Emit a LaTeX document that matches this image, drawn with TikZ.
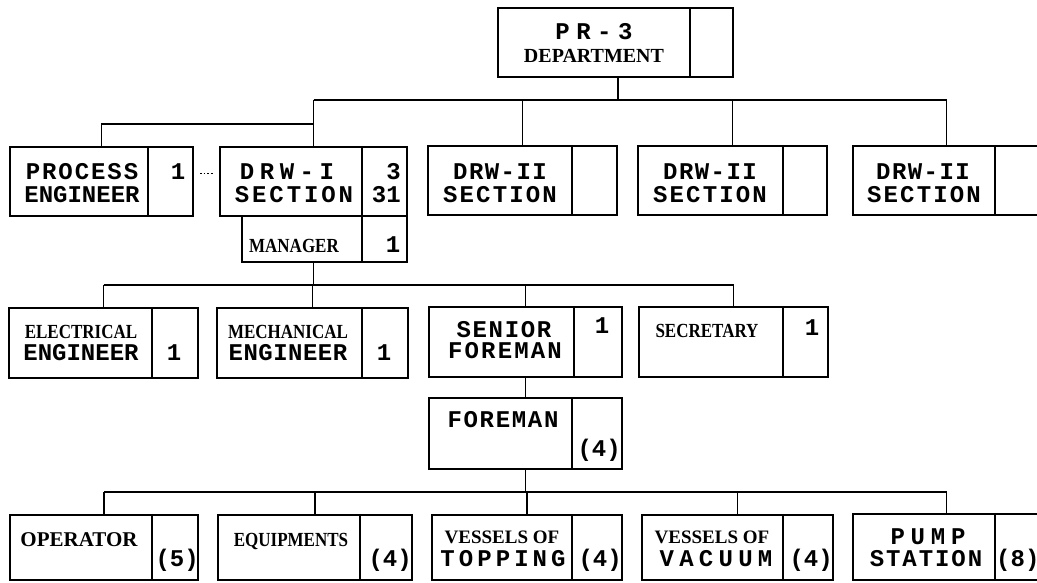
\documentclass[tikz,border=0pt]{standalone}
\usepackage{fontspec}
\usetikzlibrary{fit}
\newfontfamily\monof{Liberation Mono}
\newfontfamily\serf{Liberation Serif}
\newfontfamily\condf[FakeStretch=0.85]{Liberation Serif}
\newcommand\lsp[2]{{\addfontfeatures{LetterSpace=#1}#2}}
\tikzset{
  box/.style={draw, line width=2.2pt, inner sep=0pt},
  divline/.style={line width=2pt},
  conn/.style={line width=1.6pt},
  mtext/.style={font=\monof\bfseries\fontsize{24}{24}\selectfont, inner sep=0pt, anchor=base},
  ctext/.style={font=\condf\bfseries\fontsize{20}{20}\selectfont, inner sep=0pt, anchor=base},
  stext/.style={font=\serf\bfseries\fontsize{21}{21}\selectfont, inner sep=0pt, anchor=base},
}
\newcommand\mkbox[6]{%
  \node[box, fit={(#2,#3) (#4,#5)}] (#1) {};
  \draw[divline] (#6,0 |- #1.north) -- (#6,0 |- #1.south);
}
\begin{document}
\begin{tikzpicture}[x=1pt,y=-1pt]
\useasboundingbox (0,0) rectangle (1037,583);
\clip (0,0) rectangle (1037,583);
% boxes
\mkbox{dept}{498}{8}{733}{77}{690}
\mkbox{pe}{10}{147}{193}{216}{148}
\mkbox{drw1}{220}{147}{407}{216}{362}
\mkbox{drwa}{428}{146}{617}{215}{572}
\mkbox{drwb}{638}{146}{827}{215}{783}
\mkbox{drwc}{853}{146}{1040}{215}{995}
\mkbox{mgr}{242}{216}{407}{262}{362}
\mkbox{ee}{9}{308}{198}{378}{152}
\mkbox{me}{217}{308}{408}{378}{362}
\mkbox{sf}{429}{307}{622}{377}{574}
\mkbox{sec}{639}{307}{828}{377}{783}
\mkbox{fm}{429}{398}{622}{469}{572}
\mkbox{op}{10}{515}{198}{580}{152}
\mkbox{eq}{218}{515}{412}{580}{360}
\mkbox{vt}{432}{515}{622}{580}{572}
\mkbox{vv}{642}{515}{833}{580}{783}
\mkbox{ps}{853}{514}{1040}{580}{995}
% texts
\node[mtext] (dept1) at (594,40) {\lsp{27}{PR-3}};
\node[stext, font=\serf\bfseries\fontsize{20}{20}\selectfont] (dept2) at (594,63) {DEPARTMENT};
\node[mtext] (pe1) at (82,180) {\lsp{8}{PROCESS}};
\node[mtext] (pe2) at (82,203) {ENGINEER};
\node[mtext] (pen) at (178,180) {1};
\node[mtext] (d11) at (287,180) {\lsp{23}{DRW-I}};
\node[mtext] (d12) at (294,203) {\lsp{12}{SECTION}};
\node[mtext, anchor=base east] (d1n1) at (401,180) {3};
\node[mtext, anchor=base east] (d1n2) at (401,203) {31};
\node[mtext] (da1) at (500,180) {\lsp{6}{DRW-II}};
\node[mtext] (da2) at (500,203) {\lsp{9}{SECTION}};
\node[mtext] (db1) at (710,180) {\lsp{6}{DRW-II}};
\node[mtext] (db2) at (710,203) {\lsp{9}{SECTION}};
\node[mtext] (dc1) at (923,180) {\lsp{6}{DRW-II}};
\node[mtext] (dc2) at (924,203) {\lsp{9}{SECTION}};
\node[ctext] (mg1) at (294,252) {MANAGER};
\node[mtext] (mgn) at (393,252) {1};
\node[ctext] (ee1) at (81,338) {ELECTRICAL};
\node[mtext] (ee2) at (81,360) {ENGINEER};
\node[mtext] (een) at (174,360) {1};
\node[ctext] (me1) at (288,338) {MECHANICAL};
\node[mtext] (me2) at (288,360) {\lsp{2}{ENGINEER}};
\node[mtext] (men) at (384,360) {1};
\node[mtext] (sf1) at (504,337) {\lsp{7}{SENIOR}};
\node[mtext] (sf2) at (505,358) {\lsp{9}{FOREMAN}};
\node[mtext] (sfn) at (602,333) {1};
\node[ctext] (sc1) at (707,337) {SECRETARY};
\node[mtext] (scn) at (812,335) {1};
\node[mtext] (fm1) at (503,427) {\lsp{7}{FOREMAN}};
\node[mtext, anchor=base east] (fmn) at (621,456) {(4)};
\node[stext] (op1) at (79,546) {OPERATOR};
\node[mtext, anchor=base east] (opn) at (199,566) {(5)};
\node[ctext] (eq1) at (291,546) {EQUIPMENTS};
\node[mtext, anchor=base east] (eqn) at (412,566) {(4)};
\node[stext, font=\serf\bfseries\fontsize{19}{19}\selectfont] (vt1) at (502,543) {VESSELS OF};
\node[mtext] (vt2) at (503,566) {\lsp{17}{TOPPING}};
\node[mtext, anchor=base east] (vtn) at (622,566) {(4)};
\node[stext, font=\serf\bfseries\fontsize{19}{19}\selectfont] (vv1) at (712,543) {VESSELS OF};
\node[mtext] (vv2) at (716,566) {\lsp{22}{VACUUM}};
\node[mtext, anchor=base east] (vvn) at (833,566) {(4)};
\node[mtext] (ps1) at (928,544) {\lsp{24}{PUMP}};
\node[mtext] (ps2) at (926,566) {\lsp{8}{STATION}};
\node[mtext, anchor=base west] (psn) at (996,566) {(8)};
% connectors
\coordinate (b0) at (618,100);
\coordinate (bp) at (0,124);
\coordinate (b2) at (0,285);
\coordinate (b3) at (0,492);
\draw[conn] (dept.south -| b0) -- (b0);
\draw[conn] (drw1.north |- b0) -- (drwc.north |- b0);
\foreach \n in {drw1,drwa,drwb,drwc} \draw[conn] (\n.north |- b0) -- (\n.north);
\draw[conn] (pe.north) |- (drw1.north |- bp);
\draw[conn, dotted, line width=1.4pt] ([xshift=6pt,yshift=8pt]pe.east) -- ([xshift=-6pt,yshift=8pt]drw1.west);
\draw[conn] (drw1.north |- mgr.south) -- (drw1.north |- b2);
\draw[conn] (ee.north |- b2) -- (sec.north |- b2);
\foreach \n in {ee,me,sf,sec} \draw[conn] (\n.north |- b2) -- (\n.north);
\draw[conn] (sf.south) -- (fm.north);
\draw[conn] (fm.south) -- (fm.south |- b3);
\draw[conn] (op.north |- b3) -- (ps.north |- b3);
\foreach \n in {op,eq,vt,vv,ps} \draw[conn] (\n.north |- b3) -- (\n.north);
\end{tikzpicture}
\end{document}
